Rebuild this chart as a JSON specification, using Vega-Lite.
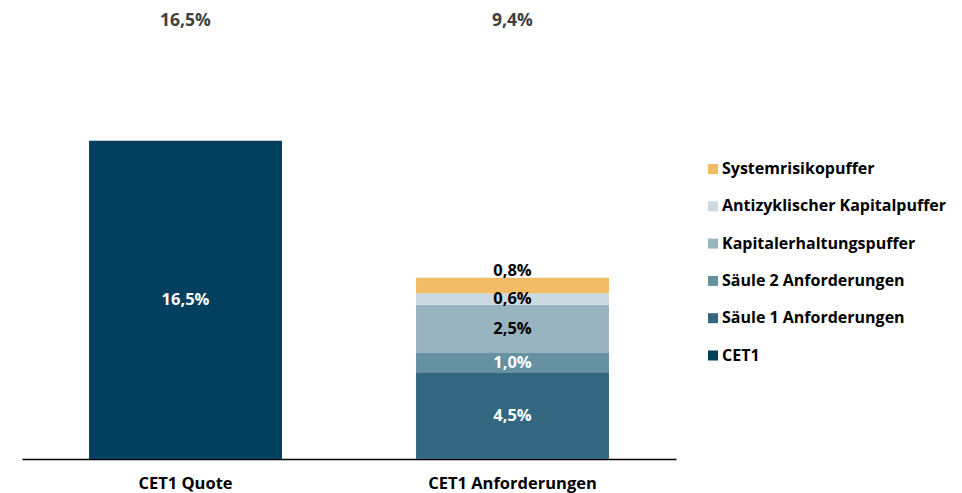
{
  "$schema": "https://vega.github.io/schema/vega-lite/v6.json",
  "width": 654,
  "height": 459,
  "autosize": {"type": "none"},
  "padding": {"left": 22, "top": 0, "right": 286, "bottom": 34},
  "background": "white",
  "config": {"view": {"stroke": null}, "font": "Open Sans"},
  "data": {
    "values": [
      {"bar": "CET1 Quote", "cat": "CET1", "value": 16.5, "o": 0},
      {"bar": "CET1 Anforderungen", "cat": "Säule 1 Anforderungen", "value": 4.5, "o": 1},
      {"bar": "CET1 Anforderungen", "cat": "Säule 2 Anforderungen", "value": 1.0, "o": 2},
      {"bar": "CET1 Anforderungen", "cat": "Kapitalerhaltungspuffer", "value": 2.5, "o": 3},
      {"bar": "CET1 Anforderungen", "cat": "Antizyklischer Kapitalpuffer", "value": 0.6, "o": 4},
      {"bar": "CET1 Anforderungen", "cat": "Systemrisikopuffer", "value": 0.8, "o": 5}
    ]
  },
  "transform": [
    {"stack": "value", "groupby": ["bar"], "sort": [{"field": "o", "order": "ascending"}], "as": ["v0", "v1"]},
    {"calculate": "(datum.v0 + datum.v1) / 2", "as": "mid"},
    {"calculate": "replace(format(datum.value, '.1f'), '.', ',') + '%'", "as": "lbl"}
  ],
  "encoding": {
    "x": {
      "field": "bar", "type": "nominal", "sort": ["CET1 Quote", "CET1 Anforderungen"],
      "scale": {"paddingInner": 0.41, "paddingOuter": 0.205},
      "axis": {"title": null, "domainColor": "#000000", "domainWidth": 1.5, "ticks": false, "labelAngle": 0,
               "labelFontSize": 16.5, "labelFontWeight": "bold", "labelColor": "#000000", "labelPadding": 16}
    }
  },
  "layer": [
    {
      "mark": {"type": "bar"},
      "encoding": {
        "y": {"field": "v0", "type": "quantitative", "scale": {"domain": [0, 23.8], "nice": false}, "axis": null},
        "y2": {"field": "v1"},
        "color": {
          "field": "cat", "type": "nominal",
          "scale": {
            "domain": ["Systemrisikopuffer", "Antizyklischer Kapitalpuffer", "Kapitalerhaltungspuffer", "Säule 2 Anforderungen", "Säule 1 Anforderungen", "CET1"],
            "range": ["#F2BB66", "#CCD9E0", "#99B3C1", "#6691A1", "#33677F", "#03405F"]
          },
          "legend": {
            "title": null, "orient": "none", "legendX": 683, "legendY": 161, "padding": 0,
            "symbolType": "square", "symbolSize": 100, "symbolStrokeWidth": 0,
            "labelFontSize": 16, "labelFontWeight": "bold", "labelColor": "#000000",
            "rowPadding": 21.3, "labelOffset": 1, "labelLimit": 400
          }
        }
      }
    },
    {
      "transform": [{"filter": "datum.cat != 'Systemrisikopuffer'"}],
      "mark": {"type": "text", "fontSize": 16.5, "fontWeight": "bold", "baseline": "middle"},
      "encoding": {
        "y": {"field": "mid", "type": "quantitative"},
        "text": {"field": "lbl"},
        "color": {
          "condition": {"test": "indexof(['CET1','Säule 1 Anforderungen','Säule 2 Anforderungen'], datum.cat) >= 0", "value": "#FFFFFF"},
          "value": "#000000"
        }
      }
    },
    {
      "transform": [{"filter": "datum.cat == 'Systemrisikopuffer'"}],
      "mark": {"type": "text", "fontSize": 16.5, "fontWeight": "bold", "baseline": "middle", "dy": -14, "color": "#000000"},
      "encoding": {
        "y": {"field": "mid", "type": "quantitative"},
        "text": {"field": "lbl"}
      }
    },
    {
      "transform": [
        {"aggregate": [{"op": "sum", "field": "value", "as": "total"}], "groupby": ["bar"]},
        {"calculate": "replace(format(datum.total, '.1f'), '.', ',') + '%'", "as": "tl"}
      ],
      "mark": {"type": "text", "fontSize": 17.5, "fontWeight": "bold", "baseline": "middle", "color": "#404040"},
      "encoding": {
        "y": {"datum": 22.7, "type": "quantitative"},
        "text": {"field": "tl"}
      }
    }
  ]
}
